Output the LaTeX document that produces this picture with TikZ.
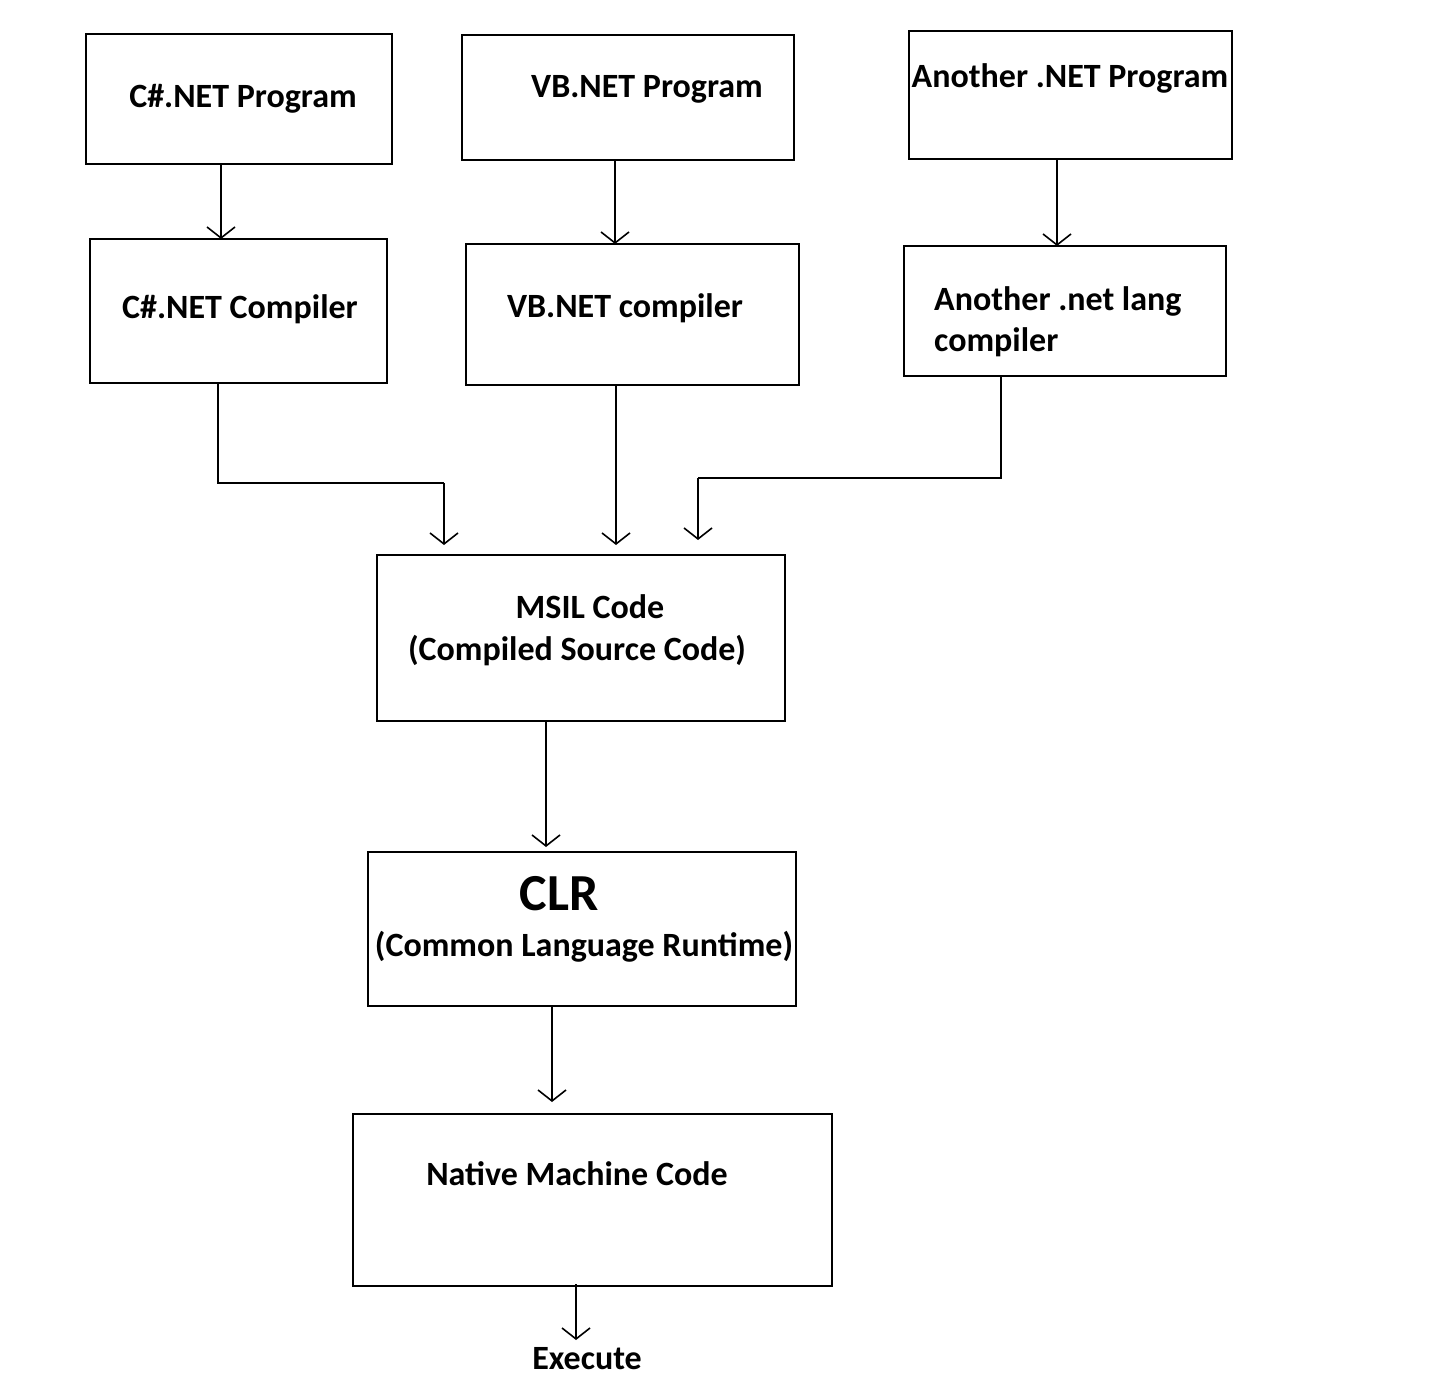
\documentclass[tikz,border=0pt]{standalone}
\usepackage{fontspec}
\setmainfont{Carlito}
\usetikzlibrary{arrows.meta}
\begin{document}
\begin{tikzpicture}[x=1pt,y=-1pt,
  box/.style={draw, line width=2pt, rectangle, inner sep=0pt, outer sep=0pt},
  lbl/.style={font=\fontsize{34}{41}\selectfont\bfseries, inner sep=0pt, anchor=base},
  big/.style={font=\fontsize{52}{60}\selectfont\bfseries, inner sep=0pt, anchor=base},
  arr/.style={line width=1.6pt, -{Straight Barb[length=11pt,width=28pt,line width=1.6pt]}},
  ln/.style={line width=1.6pt}]
\useasboundingbox (0,0) rectangle (1430,1397);
% boxes
\node[box, minimum width=306pt, minimum height=130pt] (b1) at (239,99) {};
\node[box, minimum width=332pt, minimum height=125pt] (b2) at (628,97.5) {};
\node[box, minimum width=323pt, minimum height=128pt] (b3) at (1070.5,95) {};
\node[box, minimum width=297pt, minimum height=144pt] (b4) at (238.5,311) {};
\node[box, minimum width=333pt, minimum height=141pt] (b5) at (632.5,314.5) {};
\node[box, minimum width=322pt, minimum height=130pt] (b6) at (1065,311) {};
\node[box, minimum width=408pt, minimum height=166pt] (b7) at (581,638) {};
\node[box, minimum width=428pt, minimum height=154pt] (b8) at (582,929) {};
\node[box, minimum width=479pt, minimum height=172pt] (b9) at (592.5,1200) {};
% texts
\node[lbl] (t1) at (243,107) {C\#.NET Program};
\node[lbl] (t2) at (647,97) {VB.NET Program};
\node[lbl] (t3) at (1070,88) {Another .NET Program};
\node[lbl] (t4) at (240,318) {C\#.NET Compiler};
\node[lbl] (t5) at (625,317) {VB.NET compiler};
\node[lbl, anchor=base west] (t6a) at (934,310) {Another .net lang};
\node[lbl, anchor=base west] (t6b) at (934,351) {compiler};
\node[lbl] (t7a) at (590,618) {MSIL Code};
\node[lbl] (t7b) at (577,660) {(Compiled Source Code)};
\node[big] (t8a) at (559,910) {CLR};
\node[lbl] (t8b) at (584,956) {(Common Language Runtime)};
\node[lbl] (t9) at (577,1185) {Native Machine Code};
\node[lbl] (ex) at (587,1369) {Execute};
% coordinates
\coordinate (m1) at (444,483);
\coordinate (m2) at (698,478);
% connectors
\draw[arr] (221,0 |- b1.south) -- (221,0 |- b4.north);
\draw[arr] (615,0 |- b2.south) -- (615,0 |- b5.north);
\draw[arr] (1057,0 |- b3.south) -- (1057,0 |- b6.north);
\draw[ln] (218,0 |- b4.south) -- (218,0 |- m1) -- (m1);
\draw[arr] (m1) -- (444,545);
\draw[arr] (616,0 |- b5.south) -- (616,545);
\draw[ln] (1001,0 |- b6.south) -- (1001,0 |- m2) -- (m2);
\draw[arr] (m2) -- (698,540);
\draw[arr] (546,0 |- b7.south) -- (546,847);
\draw[arr] (552,0 |- b8.south) -- (552,1102);
\draw[arr] (576,1284) -- (576,1340);
\end{tikzpicture}
\end{document}
